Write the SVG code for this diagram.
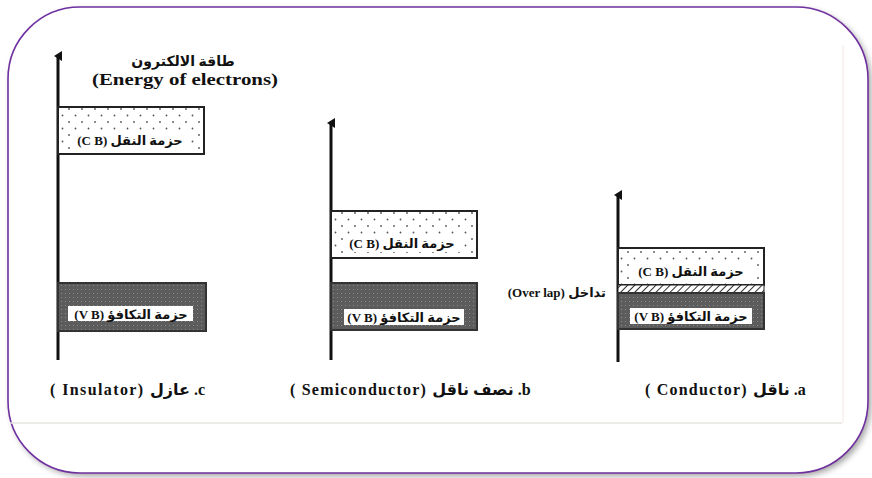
<svg xmlns="http://www.w3.org/2000/svg" width="872" height="478" viewBox="0 0 872 478">
<defs>
<style>
.ax{stroke:#111;stroke-width:3;fill:none}
.cb{fill:url(#dots);stroke:#222;stroke-width:2}
.vb{fill:url(#dark);stroke:#333;stroke-width:2}
.lbl{font-family:"Liberation Serif","Times New Roman","DejaVu Sans",serif;font-weight:bold;fill:#111}
.bg{fill:#fff}
</style>
<pattern id="dots" width="13" height="13" patternUnits="userSpaceOnUse" x="2" y="3">
<rect width="13" height="13" fill="#fff"/>
<circle cx="2" cy="2" r="0.9" fill="#555"/>
<circle cx="8.5" cy="8.5" r="0.9" fill="#555"/>
</pattern>
<pattern id="dark" width="4" height="4" patternUnits="userSpaceOnUse">
<rect width="4" height="4" fill="#5c5c5c"/>
<rect x="1" y="1" width="1" height="1" fill="#8a8a8a"/>
</pattern>
<pattern id="hatch" width="5" height="5" patternUnits="userSpaceOnUse" patternTransform="rotate(45)">
<rect width="5" height="5" fill="#fff"/>
<line x1="0" y1="0" x2="0" y2="5" stroke="#333" stroke-width="2"/>
</pattern>
<marker id="arr" markerWidth="10" markerHeight="8" refX="5" refY="4" orient="auto" markerUnits="userSpaceOnUse">
<path d="M0,8 L5,0 L10,8 Z" fill="#111"/>
</marker>
<filter id="sh" x="-5%" y="-5%" width="110%" height="110%">
<feGaussianBlur stdDeviation="3"/>
</filter>
</defs>
<rect width="872" height="478" fill="#fff"/>
<g id="frame">
<rect x="11" y="10" width="860" height="466" rx="72" ry="72" fill="#777" filter="url(#sh)" opacity="0.7"/>
<rect x="8" y="7" width="860" height="466" rx="72" ry="72" fill="#fff" stroke="#7030A0" stroke-width="1.6"/>
<line x1="10" y1="423" x2="842" y2="423" stroke="#e6e4e0" stroke-width="1.5"/>
<line x1="843" y1="45" x2="843" y2="423" stroke="#f7f0ec" stroke-width="1.5"/>
</g>
<g id="connectors">
<line class="ax" x1="58" y1="360" x2="58" y2="56" marker-end="url(#arr)"/>
<line class="ax" x1="331" y1="360" x2="331" y2="123" marker-end="url(#arr)"/>
<line class="ax" x1="618" y1="362" x2="618" y2="195" marker-end="url(#arr)"/>
</g>
<g id="axis-label">
<text class="lbl" x="183" y="66" font-size="14" text-anchor="middle">طاقة الالكترون</text>
<text class="lbl" x="92" y="85" font-size="17" font-family="Liberation Serif" textLength="186" lengthAdjust="spacingAndGlyphs">(Energy of electrons)</text>
</g>
<g id="insulator-cb">
<rect class="cb" x="58" y="107" width="146" height="47"/>
<rect class="bg" x="72" y="131" width="116" height="18"/>
<text class="lbl" x="130" y="145" font-size="13" text-anchor="middle">(C B) حزمة النقل</text>
</g>
<g id="insulator-vb">
<rect class="vb" x="58" y="283" width="148" height="48"/>
<rect class="bg" x="68" y="306" width="125" height="15"/>
<text class="lbl" x="131" y="319" font-size="13" text-anchor="middle">(V B) حزمة التكافؤ</text>
</g>
<g id="semi-cb">
<rect class="cb" x="331" y="211" width="146" height="47"/>
<rect class="bg" x="343" y="234" width="118" height="18"/>
<text class="lbl" x="402" y="248" font-size="13" text-anchor="middle">(C B) حزمة النقل</text>
</g>
<g id="semi-vb">
<rect class="vb" x="331" y="283" width="146" height="47"/>
<rect class="bg" x="344" y="309" width="120" height="16"/>
<text class="lbl" x="404" y="322" font-size="13" text-anchor="middle">(V B) حزمة التكافؤ</text>
</g>
<g id="cond-cb">
<rect class="cb" x="618" y="248" width="146" height="37"/>
<rect class="bg" x="630" y="262" width="124" height="18"/>
<text class="lbl" x="691" y="276" font-size="13" text-anchor="middle">(C B)  حزمة النقل</text>
</g>
<g id="cond-overlap">
<rect x="618" y="285" width="146" height="8" fill="url(#hatch)" stroke="#222" stroke-width="1"/>
</g>
<g id="cond-vb">
<rect class="vb" x="618" y="293" width="146" height="36"/>
<rect class="bg" x="630" y="308" width="122" height="16"/>
<text class="lbl" x="691" y="321" font-size="13" text-anchor="middle">(V B) حزمة التكافؤ</text>
</g>
<g id="overlap-label">
<text class="lbl" x="606" y="297" font-size="13" text-anchor="end">(Over lap) تداخل</text>
</g>
<g id="captions">
<text class="lbl" x="50" y="395" font-size="16" letter-spacing="1.4">( Insulator) عازل .c</text>
<text class="lbl" x="290" y="395" font-size="16" letter-spacing="1.2">( Semiconductor) نصف ناقل .b</text>
<text class="lbl" x="645" y="395" font-size="16" letter-spacing="1.2">( Conductor) ناقل .a</text>
</g>
</svg>
